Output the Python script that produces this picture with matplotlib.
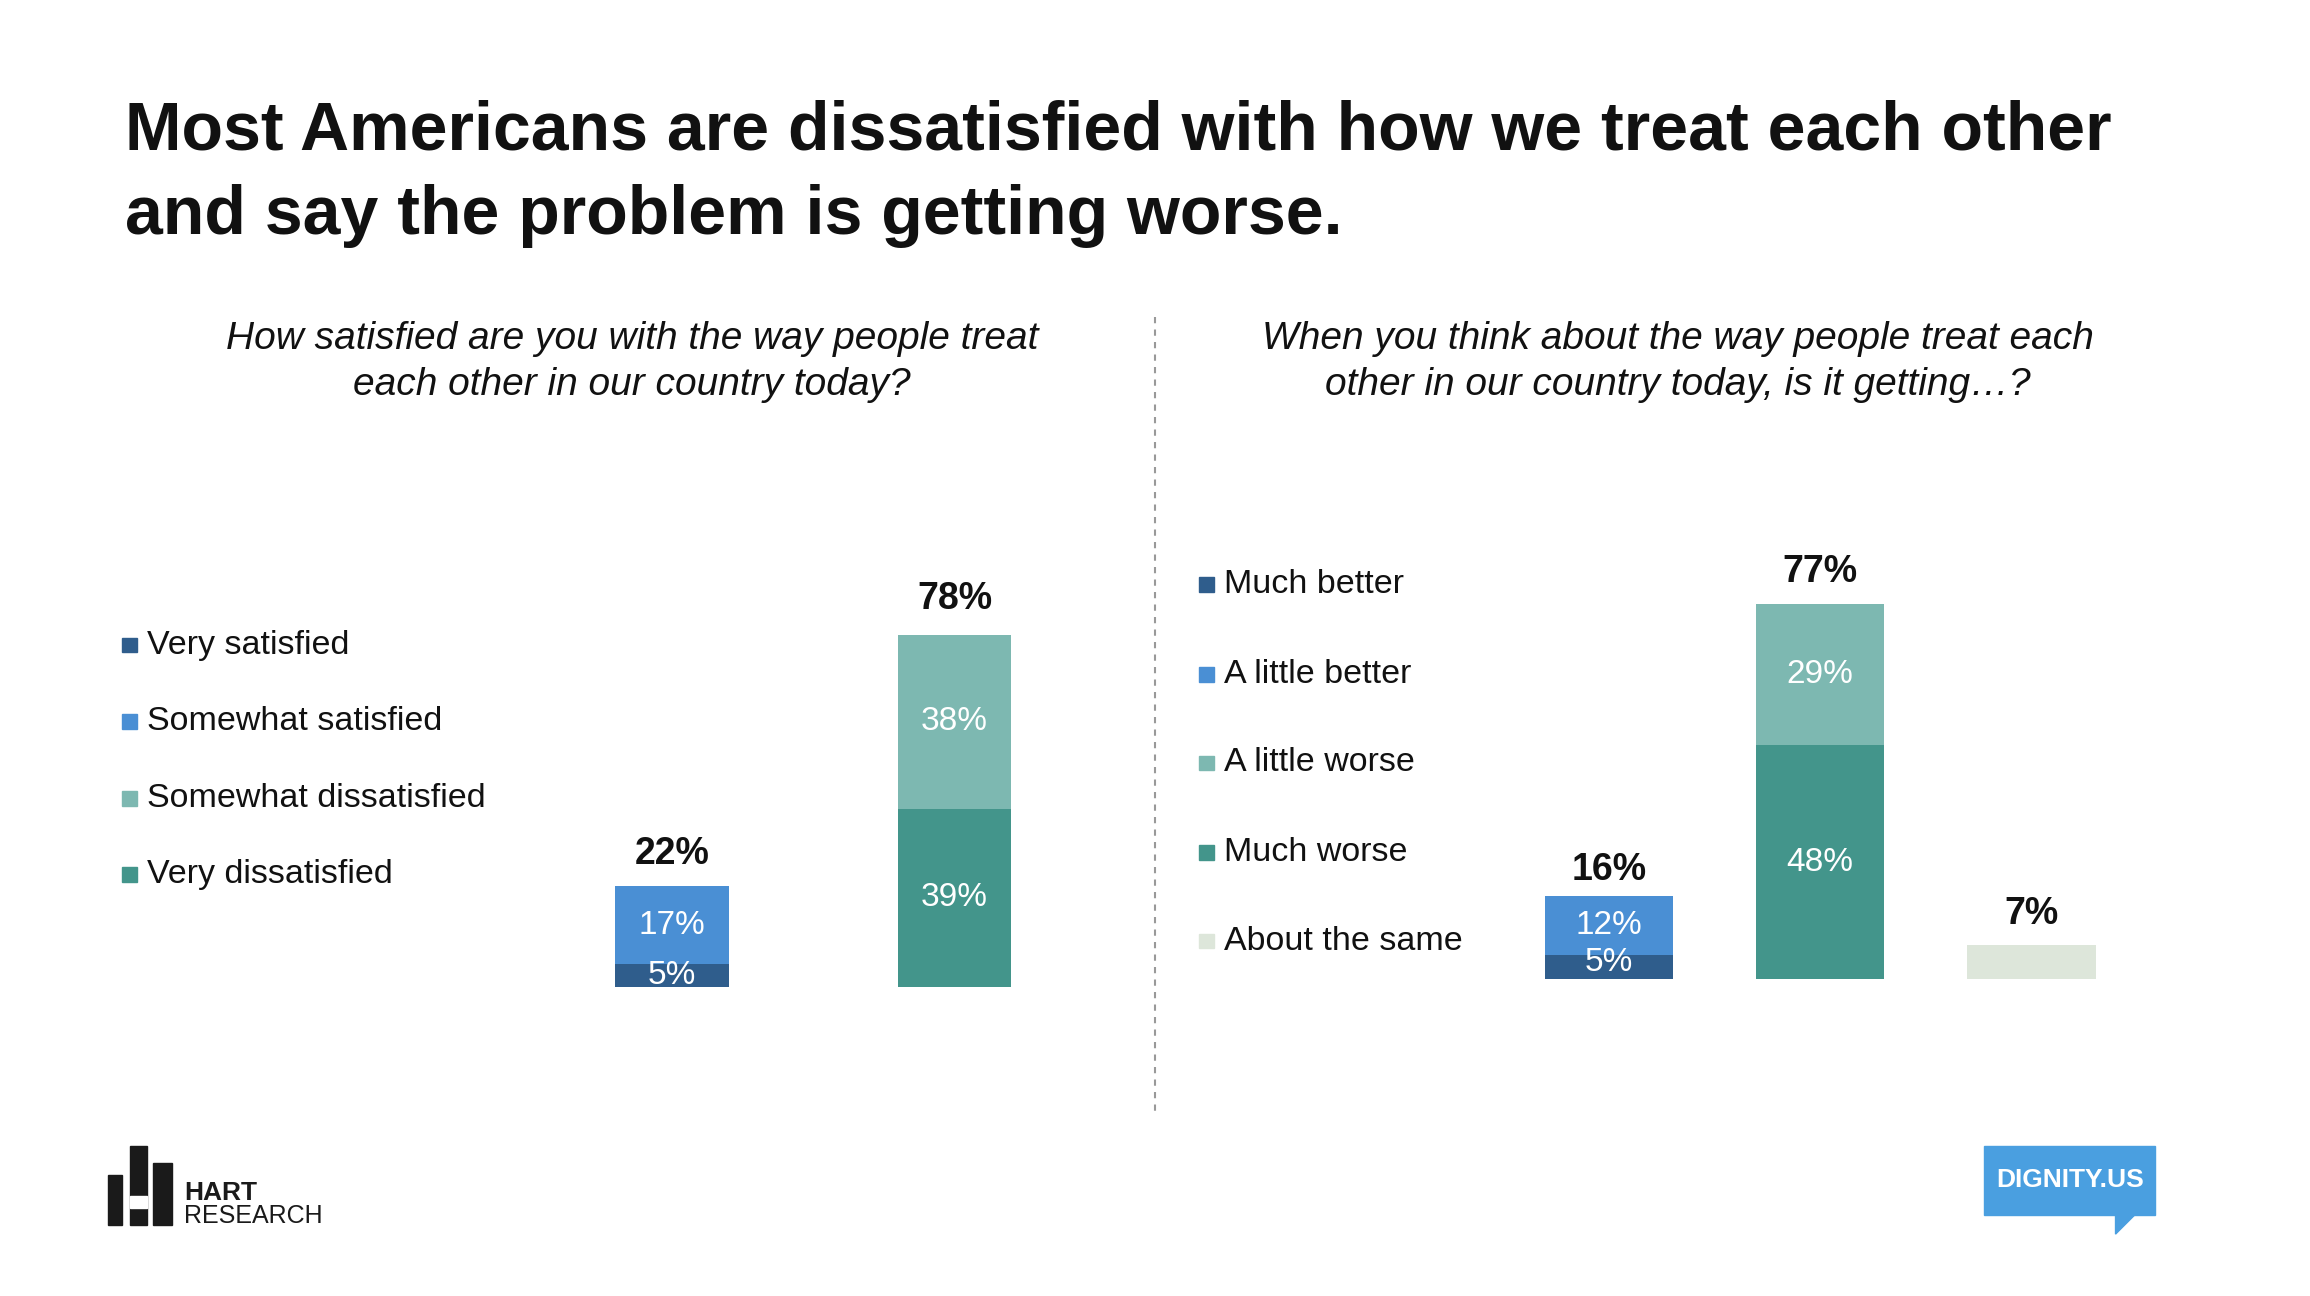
import matplotlib.pyplot as plt
from matplotlib.patches import Rectangle, Polygon

plt.rcParams['font.family'] = ['Liberation Sans', 'DejaVu Sans']

# data
sat_groups = ['Satisfied', 'Dissatisfied']
sat_labels = ['Very satisfied', 'Somewhat satisfied', 'Somewhat dissatisfied', 'Very dissatisfied']
sat_bottom = [5, 39]      # very satisfied / very dissatisfied
sat_top = [17, 38]        # somewhat satisfied / somewhat dissatisfied
sat_total = [22, 78]

trend_groups = ['Better', 'Worse', 'Same']
trend_labels = ['Much better', 'A little better', 'A little worse', 'Much worse', 'About the same']
trend_bottom = [5, 48, 7]
trend_top = [12, 29, 0]
trend_total = [16, 77, 7]

C_DKBLUE = '#2f5d8c'
C_BLUE = '#4a8fd4'
C_LTEAL = '#7db8b1'
C_TEAL = '#43958b'
C_SAME = '#dde6da'

W, H = 1568, 880
def fx(p): return p / W
def fy(p): return 1 - p / H

fig = plt.figure(figsize=(23.1, 12.96), dpi=100)
fig.patch.set_facecolor('white')

fig.text(fx(85), fy(118), 'Most Americans are dissatisfied with how we treat each other\nand say the problem is getting worse.',
         fontsize=49, fontweight='bold', va='center', ha='left', color='#111111', linespacing=1.42)

fig.text(fx(429), fy(246), 'How satisfied are you with the way people treat\neach other in our country today?',
         fontsize=28, style='italic', ha='center', va='center', color='#111111', linespacing=1.35)
fig.text(fx(1139), fy(246), 'When you think about the way people treat each\nother in our country today, is it getting…?',
         fontsize=28, style='italic', ha='center', va='center', color='#111111', linespacing=1.35)

fig.add_artist(plt.Line2D([fx(784), fx(784)], [fy(215), fy(755)], color='#999999', lw=1.5, ls=(0, (3, 3))))

def bar_label(ax, x, y, s, size=24, **kw):
    ax.text(x, y, s, ha='center', va='center', fontsize=size, **kw)

# left chart
ax1 = fig.add_axes([fx(380), fy(670), fx(720) - fx(380), 310 / H])
xs = range(len(sat_groups))
bw = 77 / 192
ax1.bar(xs, sat_bottom, width=bw, color=[C_DKBLUE, C_TEAL])
ax1.bar(xs, sat_top, width=bw, bottom=sat_bottom, color=[C_BLUE, C_LTEAL])
for i in xs:
    bar_label(ax1, i, sat_bottom[i] / 2, f'{sat_bottom[i]}%', color='white')
    bar_label(ax1, i, sat_bottom[i] + sat_top[i] / 2, f'{sat_top[i]}%', color='white')
    bar_label(ax1, i, sat_total[i] + 7, f'{sat_total[i]}%', size=27, color='#111111', fontweight='bold')
ax1.set_xlim(-0.396, 1.375)
ax1.set_ylim(0, 100)
ax1.axis('off')

# right chart
ax2 = fig.add_axes([fx(1020), fy(665), fx(1450) - fx(1020), 331 / H])
xs = range(len(trend_groups))
bw = 87 / 143.5
ax2.bar(xs, trend_bottom, width=bw, color=[C_DKBLUE, C_TEAL, C_SAME])
ax2.bar(xs, trend_top, width=bw, bottom=trend_bottom, color=[C_BLUE, C_LTEAL, C_SAME])
for i in xs:
    if trend_top[i] > 0:
        bar_label(ax2, i, trend_bottom[i] / 2 if i == 1 else trend_bottom[i] / 2 + 1, f'{trend_bottom[i]}%', color='white')
        bar_label(ax2, i, trend_bottom[i] + trend_top[i] / 2, f'{trend_top[i]}%', color='white')
    bar_label(ax2, i, trend_total[i] + 6.5, f'{trend_total[i]}%', size=27, color='#111111', fontweight='bold')
ax2.set_xlim(-0.502, 2.495)
ax2.set_ylim(0, 100)
ax2.axis('off')

# legends
def legend(x, ys, labels, colors):
    for y, lab, c in zip(ys, labels, colors):
        fig.add_artist(Rectangle((fx(x - 5), fy(y + 5)), 10 / W, 10 / H, color=c, transform=fig.transFigure))
        fig.text(fx(x + 12), fy(y), lab, fontsize=24.5, va='center', ha='left', color='#111111')

legend(88, [438, 490, 542, 594], sat_labels, [C_DKBLUE, C_BLUE, C_LTEAL, C_TEAL])
legend(819, [397, 458, 518, 579, 639], trend_labels, [C_DKBLUE, C_BLUE, C_LTEAL, C_TEAL, C_SAME])

# HART RESEARCH logo
for x0, top, w in [(73, 798, 10), (88, 778, 12), (104, 790, 13)]:
    fig.add_artist(Rectangle((fx(x0), fy(832)), w / W, (832 - top) / H, color='#1a1a1a', transform=fig.transFigure))
fig.add_artist(Rectangle((fx(88), fy(820)), 12 / W, 8 / H, color='white', transform=fig.transFigure))
fig.text(fx(125), fy(810), 'HART', fontsize=19, fontweight='bold', va='center', color='#1a1a1a')
fig.text(fx(125), fy(826), 'RESEARCH', fontsize=18, va='center', color='#1a1a1a')

# DIGNITY.US logo
fig.add_artist(Rectangle((fx(1347), fy(825)), 116 / W, 47 / H, color='#4a9fe0', transform=fig.transFigure))
fig.add_artist(Polygon([(fx(1436), fy(824)), (fx(1450), fy(824)), (fx(1436), fy(838))],
                       closed=True, color='#4a9fe0', transform=fig.transFigure))
fig.text(fx(1405), fy(801), 'DIGNITY.US', fontsize=19, fontweight='bold', color='white',
         ha='center', va='center')

fig.savefig('out.png', dpi=100)
